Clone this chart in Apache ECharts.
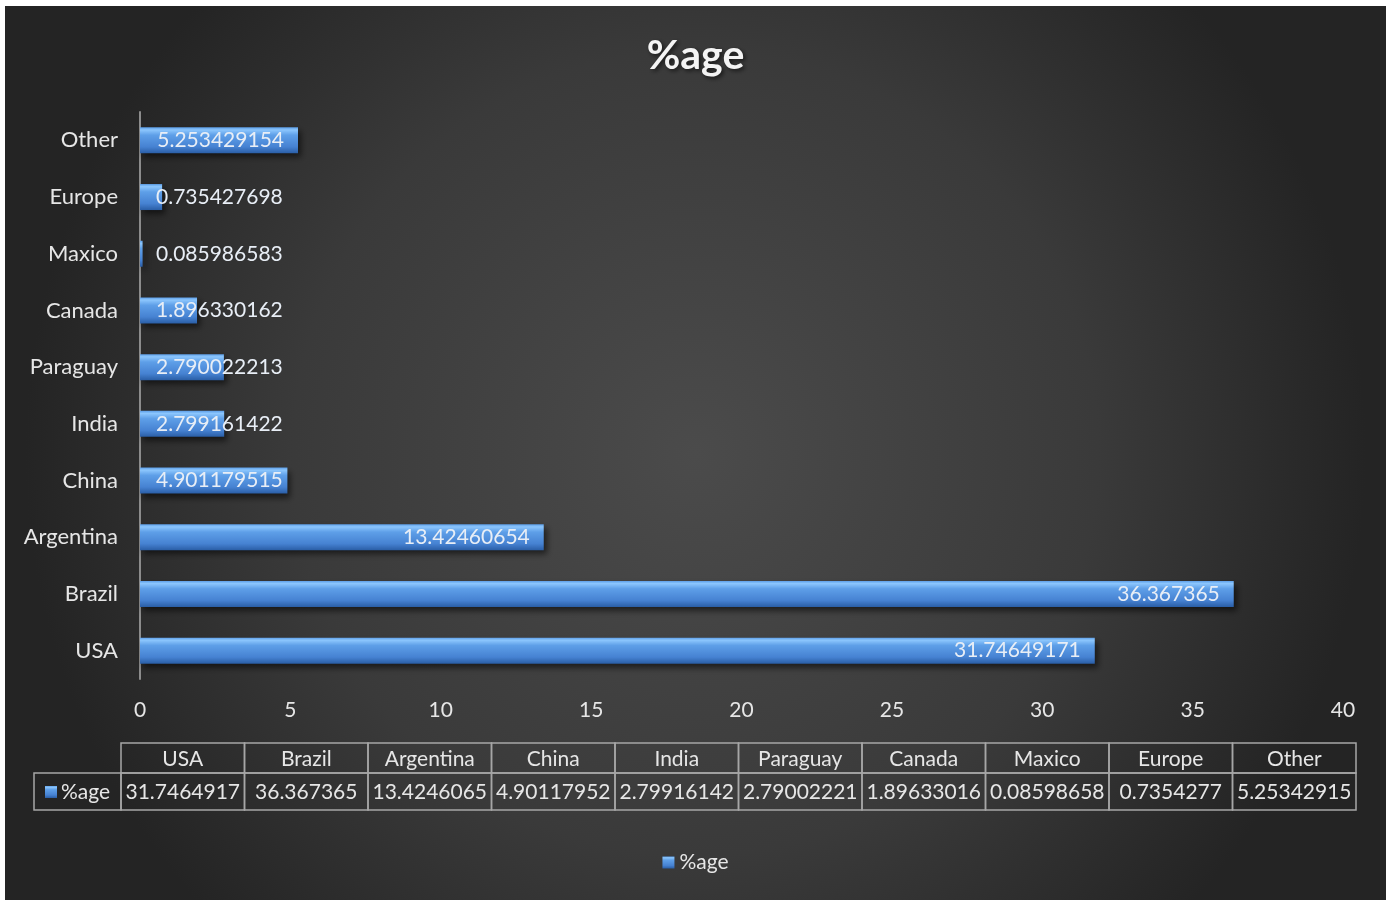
<!DOCTYPE html>
<html>
<head>
<meta charset="utf-8">
<script src="https://cdn.jsdelivr.net/npm/echarts@6/dist/echarts.min.js"></script>
<style>
html,body{margin:0;padding:0;background:#ffffff;width:1397px;height:900px;overflow:hidden;}
#chart{position:absolute;left:5px;top:6px;width:1381px;height:894px;}
</style>
</head>
<body>
<div id="chart"></div>
<script>
var categories = ['USA','Brazil','Argentina','China','India','Paraguay','Canada','Maxico','Europe','Other'];
var seriesName = '%age';
var values = [31.74649171, 36.367365, 13.42460654, 4.901179515, 2.799161422, 2.790022213, 1.896330162, 0.085986583, 0.735427698, 5.253429154];
var tableLabels = ['31.7464917','36.367365','13.4246065','4.90117952','2.79916142','2.79002221','1.89633016','0.08598658','0.7354277','5.25342915'];
var xTicks = [0,5,10,15,20,25,30,35,40];

var FONT = 'Lato, "Open Sans", sans-serif';
var TXT = '#e6e6e6';
var HEADER_FRAC = 30/67;

var chart = echarts.init(document.getElementById('chart'));

var barGradient = new echarts.graphic.LinearGradient(0,0,0,1,[
  {offset:0, color:'#5d9fe9'},
  {offset:0.1, color:'#8cc6fd'},
  {offset:0.3, color:'#5e9fe8'},
  {offset:0.75, color:'#4682d2'},
  {offset:1, color:'#2a5ea6'}
]);

var barData = values.map(function(v){
  var big = v > 5;
  return {
    value: v,
    label: big ? {position:'insideRight', distance:14} : {position:'insideLeft', distance:16}
  };
});

var cellData = [];
categories.forEach(function(c,i){
  cellData.push([i, 0, c]);
  cellData.push([i, 1, tableLabels[i]]);
});

function renderCell(params, api){
  var row = api.value(1);
  var c0 = api.coord([api.value(0), 0]);
  var size = api.size([1,1]);
  var top = c0[1] - size[1]/2;
  var total = size[1]*2;
  var hh = total*HEADER_FRAC;
  var y0 = row === 0 ? top : top + hh;
  var h = row === 0 ? hh : total - hh;
  var text = cellData[params.dataIndex][2];
  return {
    type:'group',
    children:[
      {type:'rect', shape:{x:c0[0]-size[0]/2, y:y0, width:size[0], height:h},
       style:{fill:'none', stroke:'#a6a6a6', lineWidth:1.5}},
      {type:'text', style:{x:c0[0], y:y0+h/2+1, text:text, fill:TXT, font:'21px '+FONT, align:'center', verticalAlign:'middle'}}
    ]
  };
}

var option = {
  backgroundColor: {
    type:'radial', x:0.5, y:0.5, r:0.75,
    colorStops:[{offset:0,color:'#4b4b4b'},{offset:0.6,color:'#3a3a3a'},{offset:1,color:'#242424'}]
  },
  textStyle:{fontFamily:FONT},
  animation:false,
  title:{
    text:'%age', left:'center', top:24,
    textStyle:{color:'#f4f4f4', fontSize:41, fontWeight:'bold', fontFamily:FONT,
      textShadowColor:'rgba(0,0,0,0.6)', textShadowBlur:4, textShadowOffsetX:2, textShadowOffsetY:2}
  },
  legend:{
    bottom:22, left:'center', itemWidth:12, itemHeight:12, itemGap:8,
    icon:'rect',
    data:[seriesName],
    textStyle:{color:TXT, fontSize:21, fontFamily:FONT}
  },
  grid:[
    {left:135, right:43, top:106, height:567, containLabel:false},
    {left:116, right:30, top:737, height:67, containLabel:false}
  ],
  xAxis:[
    {type:'value', gridIndex:0, min:0, max:40, interval:5,
     axisLine:{show:false}, axisTick:{show:false}, splitLine:{show:false},
     axisLabel:{color:TXT, fontSize:21, margin:21, fontFamily:FONT,
       customValues: xTicks}},
    {type:'category', gridIndex:1, data:categories, show:false, boundaryGap:true}
  ],
  yAxis:[
    {type:'category', gridIndex:0, data:categories,
     axisLine:{show:true, lineStyle:{color:'#8c8c8c', width:2}},
     axisTick:{show:false},
     axisLabel:{color:TXT, fontSize:22, margin:22, fontFamily:FONT}},
    {type:'category', gridIndex:1, data:['h','v'], inverse:true, show:false, boundaryGap:true}
  ],
  series:[
    {
      name:seriesName, type:'bar', xAxisIndex:0, yAxisIndex:0,
      data:barData, barWidth:26,
      itemStyle:{color:barGradient, shadowColor:'rgba(0,0,0,0.55)', shadowBlur:6, shadowOffsetX:3, shadowOffsetY:4},
      label:{show:true, color:'#e8eef6', fontSize:21, fontFamily:FONT,
        formatter:function(p){return String(p.value);}}
    },
    {
      type:'custom', xAxisIndex:1, yAxisIndex:1, data:cellData,
      renderItem:renderCell, silent:true
    }
  ],
  graphic:[
    {type:'rect', shape:{x:29, y:767, width:87, height:37}, style:{fill:'none', stroke:'#a6a6a6', lineWidth:1.5}},
    {type:'rect', shape:{x:40, y:780, width:12, height:12}, style:{fill:barGradient}},
    {type:'text', style:{x:56, y:786, text:seriesName, fill:TXT, font:'21px '+FONT, verticalAlign:'middle'}}
  ]
};
chart.setOption(option);
</script>
</body>
</html>
